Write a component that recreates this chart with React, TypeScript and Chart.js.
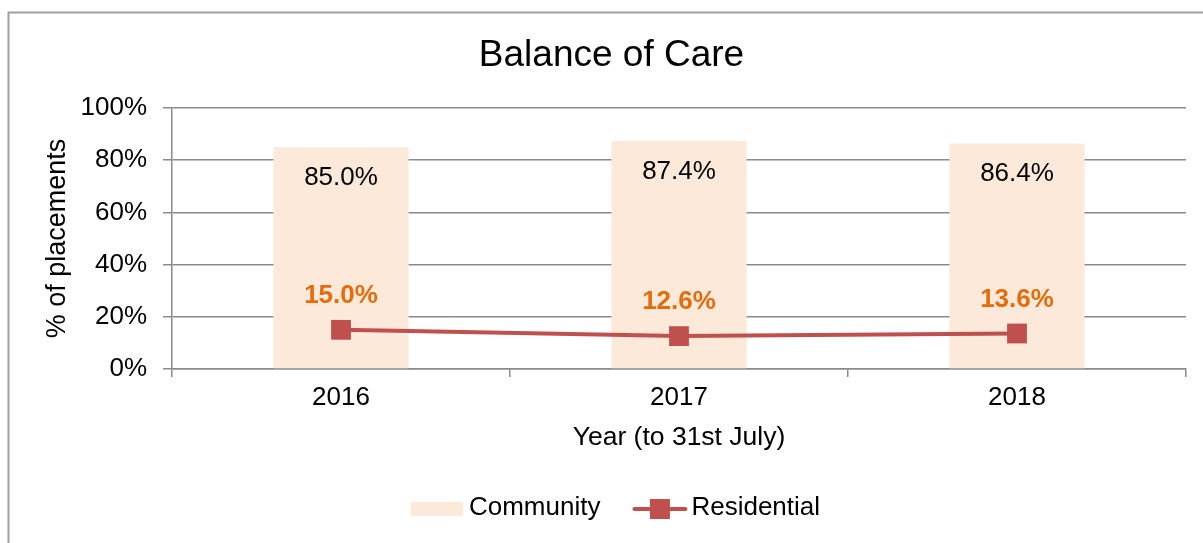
import React, { useEffect, useRef } from 'react';
import { Chart, registerables } from 'chart.js';

Chart.register(...registerables);

const categories = ['2016', '2017', '2018'];
const communityValues = [85.0, 87.4, 86.4];
const residentialValues = [15.0, 12.6, 13.6];
const yMin = 0;
const yMax = 100;
const yStep = 20;
const chartTitle = 'Balance of Care';
const yAxisTitle = '% of placements';
const xAxisTitle = 'Year (to 31st July)';
const seriesNames = ['Community', 'Residential'];

const FONT = "'Liberation Sans', Arial, Helvetica, sans-serif";
const COMMUNITY = '#FDE9D9';
const RESIDENTIAL = '#C0504D';
const LABEL_ORANGE = '#E46C0A';
const GRID = '#8a8a8a';
const FRAME = '#a0a0a0';

const framePlugin = {
  id: 'frame',
  beforeDraw(chart: any) {
    const { ctx, width, height } = chart;
    ctx.save();
    ctx.fillStyle = '#ffffff';
    ctx.fillRect(0, 0, width, height);
    ctx.strokeStyle = FRAME;
    ctx.lineWidth = 2;
    ctx.beginPath();
    ctx.moveTo(8.5, height + 5);
    ctx.lineTo(8.5, 12.5);
    ctx.lineTo(width + 5, 12.5);
    ctx.stroke();
    ctx.restore();
  },
};

const valueLabelsPlugin = {
  id: 'valueLabels',
  afterDatasetsDraw(chart: any) {
    const { ctx } = chart;
    ctx.save();
    ctx.textAlign = 'center';
    ctx.textBaseline = 'alphabetic';
    const barMeta = chart.getDatasetMeta(0);
    ctx.font = `26px ${FONT}`;
    ctx.fillStyle = '#000000';
    barMeta.data.forEach((bar: any, i: number) => {
      ctx.fillText(communityValues[i].toFixed(1) + '%', bar.x, bar.y + 38);
    });
    const lineMeta = chart.getDatasetMeta(1);
    ctx.font = `bold 26px ${FONT}`;
    ctx.fillStyle = LABEL_ORANGE;
    lineMeta.data.forEach((pt: any, i: number) => {
      ctx.fillText(residentialValues[i].toFixed(1) + '%', pt.x, pt.y - 27);
    });
    ctx.restore();
  },
};

const customLegendPlugin = {
  id: 'customLegend',
  afterDraw(chart: any) {
    const { ctx } = chart;
    const title = chart.titleBlock;
    const cx = (title.left + title.right) / 2 + 4;
    const cy = chart.chartArea.bottom + 139;
    ctx.save();
    ctx.font = `26px ${FONT}`;
    const w1 = ctx.measureText(seriesNames[0]).width;
    const w2 = ctx.measureText(seriesNames[1]).width;
    const boxW = 52;
    const lineW = 55;
    const total = boxW + 6 + w1 + 32 + lineW + 4 + w2;
    let x = cx - total / 2;
    ctx.fillStyle = COMMUNITY;
    ctx.fillRect(x, cy - 6, boxW, 14);
    x += boxW + 6;
    ctx.fillStyle = '#000000';
    ctx.textBaseline = 'middle';
    ctx.textAlign = 'left';
    ctx.fillText(seriesNames[0], x, cy);
    x += w1 + 32;
    ctx.strokeStyle = RESIDENTIAL;
    ctx.lineWidth = 4;
    ctx.lineCap = 'round';
    ctx.beginPath();
    ctx.moveTo(x + 2, cy + 1);
    ctx.lineTo(x + lineW - 2, cy + 1);
    ctx.stroke();
    ctx.fillStyle = RESIDENTIAL;
    ctx.fillRect(x + lineW / 2 - 10, cy + 1 - 10, 20, 20);
    x += lineW + 4;
    ctx.fillStyle = '#000000';
    ctx.fillText(seriesNames[1], x, cy);
    ctx.restore();
  },
};

export default function App() {
  const canvasRef = useRef<HTMLCanvasElement | null>(null);

  useEffect(() => {
    const canvas = canvasRef.current;
    if (!canvas) return;
    const chart = new Chart(canvas, {
      type: 'bar',
      data: {
        labels: categories,
        datasets: [
          {
            type: 'bar',
            label: seriesNames[0],
            data: communityValues,
            backgroundColor: COMMUNITY,
            borderWidth: 0,
            barPercentage: 0.4,
            categoryPercentage: 1.0,
            order: 2,
          } as any,
          {
            type: 'line',
            label: seriesNames[1],
            data: residentialValues,
            borderColor: RESIDENTIAL,
            borderWidth: 4,
            backgroundColor: RESIDENTIAL,
            pointStyle: 'rect',
            pointRadius: 14,
            pointBorderWidth: 0,
            pointBackgroundColor: RESIDENTIAL,
            tension: 0,
            fill: false,
            order: 1,
          } as any,
        ],
      },
      options: {
        responsive: false,
        animation: false,
        devicePixelRatio: 1,
        layout: { padding: { left: 37, right: 17, top: 12, bottom: 74 } },
        plugins: {
          legend: { display: false },
          tooltip: { enabled: false },
          title: {
            display: true,
            text: chartTitle,
            color: '#000000',
            font: { family: FONT, size: 37, weight: 'normal', lineHeight: 1.2 },
            padding: { top: 22, bottom: 29.6 },
          },
        },
        scales: {
          x: {
            offset: true,
            grid: {
              display: true,
              offset: true,
              drawOnChartArea: false,
              drawTicks: true,
              tickLength: 8,
              color: GRID,
              lineWidth: 1.5,
            },
            border: { display: true, color: GRID, width: 1.5 },
            ticks: {
              color: '#000000',
              font: { family: FONT, size: 26 },
              padding: 5,
              maxRotation: 0,
            },
            title: {
              display: true,
              text: xAxisTitle,
              color: '#000000',
              font: { family: FONT, size: 26.5, lineHeight: 1.2 },
              padding: { top: 0, bottom: 15 },
            },
            afterFit: (s: any) => {
              s.height = 100;
            },
          },
          y: {
            min: yMin,
            max: yMax,
            grid: {
              color: GRID,
              lineWidth: 1.5,
              drawTicks: true,
              tickLength: 9,
            },
            border: { display: true, color: GRID, width: 1.5 },
            ticks: {
              stepSize: yStep,
              color: '#000000',
              font: { family: FONT, size: 26 },
              padding: 16,
              callback: (v: any) => v + '%',
            },
            title: {
              display: true,
              text: yAxisTitle,
              color: '#000000',
              font: { family: FONT, size: 27, lineHeight: 1.2 },
              padding: { top: 4, bottom: 0 },
            },
            afterFit: (s: any) => {
              s.width = 135;
            },
          },
        },
      } as any,
      plugins: [framePlugin, valueLabelsPlugin, customLegendPlugin],
    });
    return () => chart.destroy();
  }, []);

  return (
    <div style={{ position: 'absolute', left: 0, top: 0, width: 1203, height: 543 }}>
      <canvas ref={canvasRef} width={1203} height={543} style={{ display: 'block' }} />
    </div>
  );
}
